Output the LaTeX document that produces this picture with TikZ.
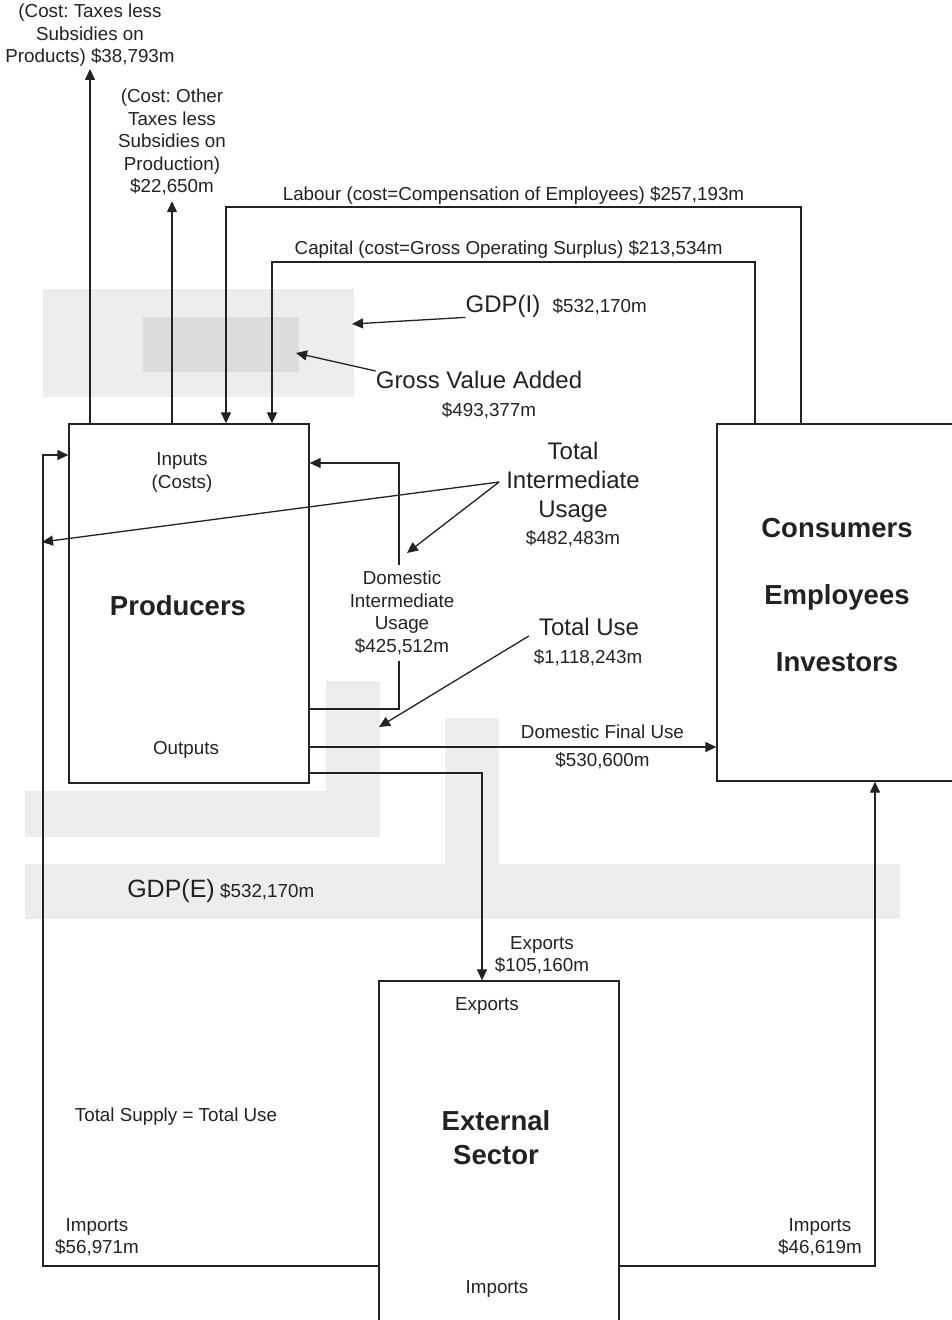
\documentclass[tikz,border=0pt]{standalone}
\usepackage{fontspec}
\setmainfont{Liberation Sans}
\frenchspacing
\usetikzlibrary{arrows.meta, positioning}
\definecolor{ink}{HTML}{222222}
\definecolor{gdplight}{HTML}{EDEDED}
\definecolor{gdpdark}{HTML}{DCDCDC}

\begin{document}
\begin{tikzpicture}[x=1pt, y=-1pt,
    box/.style={draw=ink, line width=1.3pt, inner sep=0pt},
    lbl/.style={text=ink, font=\fontsize{18.8}{22.5}\selectfont, align=center, inner sep=0pt},
    big/.style={text=ink, font=\fontsize{24}{29}\selectfont, align=center, inner sep=0pt},
    sector/.style={text=ink, font=\fontsize{27.5}{34}\selectfont\bfseries, align=center, inner sep=0pt},
    link/.style={draw=ink, line width=1.3pt},
    flow/.style={link, -{Triangle[length=11pt, width=10pt]}}]

    \useasboundingbox (0,0) rectangle (952,1320);
    \clip (0,0) rectangle (952,1320);

    % --- grey bands: GDP(I) and GDP(E) ---
    \fill[gdplight] (43,289) rectangle (354,397);
    \fill[gdpdark] (143,317) rectangle (299,372);
    \fill[gdplight] (326,681) -- (380,681) -- (380,837) -- (25,837) -- (25,791) -- (326,791) -- cycle;
    \fill[gdplight] (445,718) -- (499,718) -- (499,864) -- (900,864) -- (900,919)
        -- (25,919) -- (25,864) -- (445,864) -- cycle;

    % --- sectors ---
    \node[box, minimum width=240pt, minimum height=359pt] (prod) at (189,603.5) {};
    \node[box, minimum width=260pt, minimum height=357pt] (cons) at (847,602.5) {};
    \node[box, minimum width=240pt, minimum height=360pt] (ext) at (499,1161) {};

    \node[sector] (prodname) at (178,606) {Producers};
    \node[lbl] (inputs) at (182,472.5) {Inputs\\(Costs)};
    \node[lbl] (outputs) at (186,750) {Outputs};
    \node[sector, font=\fontsize{27.5}{67}\selectfont\bfseries] (consname) at (837,595)
        {Consumers\\Employees\\Investors};
    \node[sector] (extname) at (496,1138) {External\\Sector};
    \node[lbl] (extexp) at (487,1006) {Exports};
    \node[lbl] (extimp) at (497,1289) {Imports};

    % --- taxes ---
    \node[lbl, inner ysep=2pt] (taxprod) at (90,35.5) {(Cost: Taxes less\\Subsidies on\\Products) \$38,793m};
    \node[lbl, inner ysep=6pt] (taxoth) at (172,142) {(Cost: Other\\Taxes less\\Subsidies on\\Production)\\\$22,650m};
    \draw[flow] (prod.north -| taxprod) -- (taxprod.south);
    \draw[flow] (prod.north -| taxoth) -- (taxoth.south);

    % --- labour and capital ---
    \coordinate (labR) at (801,207);
    \coordinate (labL) at (226,207);
    \draw[flow] (cons.north -| labR) -- (labR)
        -- node[lbl, above=2pt] {Labour (cost=Compensation of Employees) \$257,193m} (labL)
        -- (prod.north -| labL);
    \coordinate (capR) at (755,262);
    \coordinate (capL) at (272,262);
    \draw[flow] (cons.north -| capR) -- (capR)
        -- node[lbl, pos=0.51, above=3pt] {Capital (cost=Gross Operating Surplus) \$213,534m} (capL)
        -- (prod.north -| capL);

    % --- GDP(I) and value added ---
    \node[big] (gdpi) at (503,306) {GDP(I)};
    \node[lbl, anchor=base west] (gdpival) at ([xshift=12pt]gdpi.base east) {\$532,170m};
    \coordinate (gdpiTip) at (352,324);
    \draw[flow] (gdpi.south west) -- (gdpiTip);

    \node[big] (gva) at (479,380) {Gross Value Added};
    \node[lbl] (gvaval) at (489,411) {\$493,377m};
    \coordinate (gvaTip) at (296,353);
    \draw[flow] (gva.north west) -- (gvaTip);

    % --- intermediate usage ---
    \node[big] (tiu) at (573,482) {Total\\Intermediate\\Usage};
    \node[lbl] (tiuval) at (573,539) {\$482,483m};
    \coordinate (tiuL) at (42,542);
    \coordinate (tiuD) at (407,553);
    \draw[flow] ([xshift=-7pt]tiu.west) -- (tiuL);
    \draw[flow] ([xshift=-7pt]tiu.west) -- (tiuD);

    \node[lbl, inner ysep=6pt] (dom) at (402,613) {Domestic\\Intermediate\\Usage\\\$425,512m};
    \coordinate (domLow) at (399,709);
    \coordinate (domUp) at (399,463);
    \draw[link] (prod.east |- domLow) -- (domLow) -- (dom.south -| domLow);
    \draw[flow] (dom.north -| domUp) -- (domUp) -- (prod.east |- domUp);

    % --- total use ---
    \node[big] (tuse) at (589,627) {Total Use};
    \node[lbl] (tuseval) at (588,658) {\$1,118,243m};
    \coordinate (tuseTip) at (379,727);
    \draw[flow] ([xshift=-10pt]tuse.south west) -- (tuseTip);

    % --- final use and exports ---
    \coordinate (dfu) at (0,747);
    \draw[flow] (prod.east |- dfu)
        -- node[lbl, pos=0.72, above=8pt] {Domestic Final Use}
           node[lbl, pos=0.72, below=5pt] {\$530,600m} (cons.west |- dfu);

    \coordinate (expc) at (482,773);
    \draw[flow] (prod.east |- expc) -| (ext.north -| expc);
    \node[lbl] (expval) at (542,955) {Exports\\\$105,160m};

    \node[big, font=\fontsize{25}{30}\selectfont] (gdpe) at (171,891) {GDP(E)};
    \node[lbl, anchor=base west] (gdpeval) at ([xshift=5pt]gdpe.base east) {\$532,170m};

    % --- imports ---
    \coordinate (impL) at (43,1266);
    \coordinate (impLtop) at (43,455);
    \draw[flow] (ext.west |- impL) -- (impL) |- (prod.west |- impLtop);
    \node[lbl] (impLval) at (97,1237) {Imports\\\$56,971m};

    \coordinate (impR) at (875,1266);
    \draw[flow] (ext.east |- impR) -| (cons.south -| impR);
    \node[lbl] (impRval) at (820,1237) {Imports\\\$46,619m};

    \node[lbl] (supply) at (176,1117) {Total Supply = Total Use};
\end{tikzpicture}
\end{document}
